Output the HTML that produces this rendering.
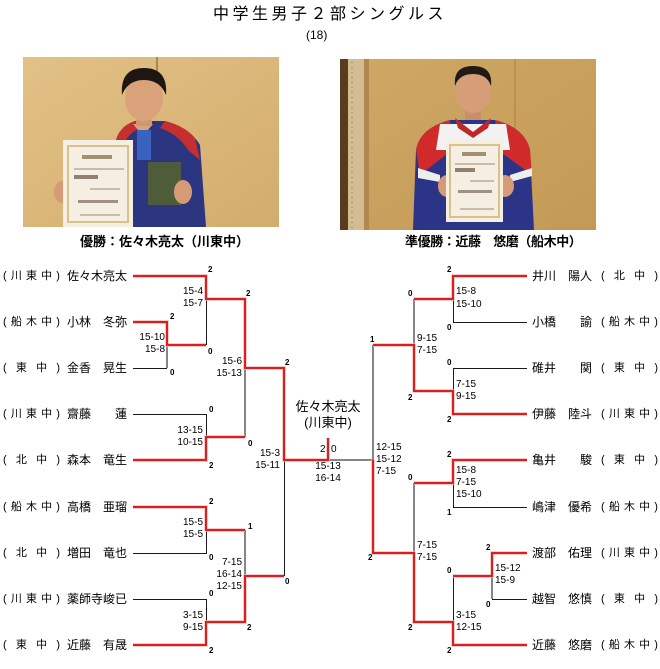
<!DOCTYPE html>
<html><head><meta charset="utf-8">
<style>
html,body{margin:0;padding:0;background:#fff;}
body{width:660px;height:669px;position:relative;overflow:hidden;font-family:"Liberation Sans","Noto Sans CJK JP",sans-serif;color:#000;}
.a{position:absolute;white-space:nowrap;}
.title{left:213px;top:5px;font-size:16px;line-height:20px;letter-spacing:3.5px;font-family:"Liberation Sans","Noto Sans CJK JP",sans-serif;}
.sub{left:306px;top:27px;font-size:12px;line-height:16px;}
.cap{font-size:13px;font-weight:bold;line-height:16px;top:234px;}
.nm{font-size:12px;line-height:16px;width:62px;}
.sc{font-size:11px;line-height:16px;width:57px;display:flex;justify-content:space-between;}
.s{font-size:10px;line-height:12px;}
.r{text-align:right;}
.n{font-size:8px;font-weight:bold;line-height:8px;}
</style></head><body>

<div class="a title">中学生男子２部シングルス</div>
<div class="a sub">(18)</div>

<svg class="a" style="left:0;top:0" width="660" height="669" viewBox="0 0 660 669">
  <!-- Left photo -->
  <defs>
    <linearGradient id="lb" x1="0" y1="0" x2="1" y2="1">
      <stop offset="0" stop-color="#e2c186"/><stop offset="1" stop-color="#d2ac6c"/>
    </linearGradient>
    <linearGradient id="rb" x1="0" y1="0" x2="1" y2="1">
      <stop offset="0" stop-color="#cfa866"/><stop offset="1" stop-color="#c39a55"/>
    </linearGradient>
  </defs>
  <rect x="23" y="57" width="256" height="170" fill="url(#lb)"/>
  <line x1="157" y1="57" x2="157" y2="72" stroke="#6a5030" stroke-width="1"/>
  <!-- jacket -->
  <path d="M112 227 L116 140 Q120 126 135 121 L165 121 Q190 128 200 145 L206 227 Z" fill="#2c3580"/>
  <path d="M116 140 Q120 126 135 121 L140 128 Q126 134 122 150 Z" fill="#c43030"/>
  <path d="M165 121 Q185 126 195 138 L200 160 L188 150 Q178 134 160 128 Z" fill="#c43030"/>
  <path d="M133 124 L143 136 L153 124 Z" fill="#d8a27a"/>
  <rect x="137" y="130" width="14" height="30" fill="#3a62c0"/>
  <!-- head -->
  <rect x="136" y="112" width="16" height="14" fill="#cf9670"/>
  <ellipse cx="144" cy="98" rx="19" ry="23" fill="#d9a27b"/>
  <path d="M122 95 Q120 68 144 68 Q168 68 166 95 Q160 80 144 80 Q128 80 122 95 Z" fill="#1d1612"/>
  <!-- green book -->
  <rect x="148" y="162" width="33" height="43" fill="#4e5c3a"/>
  <!-- hands -->
  <ellipse cx="62" cy="192" rx="8" ry="11" fill="#d59b76"/>
  <ellipse cx="183" cy="192" rx="9" ry="12" fill="#d59b76"/>
  <!-- certificate -->
  <rect x="63" y="140" width="70" height="87" fill="#f5efe3"/>
  <rect x="68" y="146" width="60" height="76" fill="none" stroke="#d8c28a" stroke-width="2"/>
  <rect x="82" y="155" width="30" height="4" fill="#a09070"/>
  <rect x="74" y="168" width="50" height="2" fill="#c8bca8"/>
  <rect x="74" y="175" width="24" height="4" fill="#908070"/>
  <rect x="90" y="188" width="30" height="2" fill="#c8bca8"/>
  <rect x="78" y="200" width="40" height="3" fill="#a09080"/>
  <rect x="80" y="214" width="40" height="2" fill="#c8bca8"/>

  <!-- Right photo -->
  <rect x="340" y="59" width="256" height="171" fill="url(#rb)"/>
  <rect x="340" y="59" width="8" height="171" fill="#5c3c20"/>
  <rect x="348" y="59" width="16" height="171" fill="#d4bc92"/>
  <line x1="352" y1="62" x2="352" y2="228" stroke="#8a6a40" stroke-width="1" stroke-dasharray="1,4"/>
  <rect x="364" y="59" width="5" height="171" fill="#b08850"/>
  <line x1="515" y1="59" x2="515" y2="230" stroke="#a88448" stroke-width="1"/>
  <!-- jacket -->
  <path d="M413 230 L416 150 Q420 128 450 120 L495 120 Q525 128 530 150 L534 230 Z" fill="#2b3486"/>
  <path d="M416 150 Q420 128 450 120 L452 150 L420 175 Z" fill="#d02a2a"/>
  <path d="M495 120 Q525 128 530 150 L532 175 L498 150 Z" fill="#d02a2a"/>
  <path d="M440 124 L506 124 L510 150 L436 150 Z" fill="#f2f2f2"/>
  <path d="M455 118 L473 132 L491 118 L488 128 L473 138 L458 128 Z" fill="#c02828"/>
  <path d="M418 168 L440 175 L440 182 L418 178 Z" fill="#eeeeee"/>
  <path d="M510 175 L532 168 L532 176 L510 182 Z" fill="#eeeeee"/>
  <!-- head -->
  <rect x="465" y="104" width="16" height="16" fill="#c98f68"/>
  <ellipse cx="473" cy="91" rx="18" ry="22" fill="#d59d78"/>
  <path d="M455 86 Q453 66 473 66 Q493 66 491 86 Q487 74 473 74 Q459 74 455 86 Z" fill="#221a14"/>
  <!-- hands -->
  <ellipse cx="447" cy="186" rx="9" ry="11" fill="#d59b76"/>
  <ellipse cx="505" cy="186" rx="9" ry="11" fill="#d59b76"/>
  <!-- certificate -->
  <rect x="446" y="140" width="57" height="82" fill="#f5efe3"/>
  <rect x="450" y="145" width="49" height="72" fill="none" stroke="#d8c28a" stroke-width="2"/>
  <rect x="462" y="152" width="24" height="4" fill="#a09070"/>
  <rect x="455" y="163" width="40" height="2" fill="#c8bca8"/>
  <rect x="455" y="168" width="20" height="4" fill="#908070"/>
  <rect x="470" y="180" width="24" height="2" fill="#c8bca8"/>
  <rect x="458" y="190" width="34" height="3" fill="#a09080"/>
  <rect x="460" y="208" width="34" height="2" fill="#c8bca8"/>

  <!-- Bracket: gray 2px -->
  <g fill="none" stroke="#868686" stroke-width="2">
    <path d="M167 345 V368"/>
    <path d="M245 368 V437"/>
    <path d="M245 530 V576"/>
    <path d="M373 345 V460 H328"/>
    <path d="M414 299 V345"/>
    <path d="M414 483 V553"/>
    <path d="M492 576 V599"/>
  </g>
  <!-- black 1px -->
  <g fill="none" stroke="#1a1a1a" stroke-width="1">
    <path d="M133 368.5 H167"/>
    <path d="M133 414.5 H206.5 V437"/>
    <path d="M206.5 299 V345"/>
    <path d="M133 553.5 H206.5 V530"/>
    <path d="M133 599.5 H206.5 V622"/>
    <path d="M284.5 460 V576"/>
    <path d="M527 322.5 H453.5 V299"/>
    <path d="M527 368.5 H453.5 V391"/>
    <path d="M527 507.5 H453.5 V483"/>
    <path d="M527 599.5 H492"/>
    <path d="M453.5 576 V622"/>
  </g>
  <!-- red -->
  <g fill="none" stroke="#f2b8b8" stroke-width="3.4" stroke-linejoin="miter">
    <path d="M133 276 H206 V299 H245 V368 H284 V460 H328 V438"/>
    <path d="M133 322 H167 V345 H206"/>
    <path d="M133 460 H206 V437 H245"/>
    <path d="M133 507 H206 V530 H245"/>
    <path d="M133 645 H206 V622 H245 V576 H284"/>
    <path d="M527 276 H453 V299 H414"/>
    <path d="M527 414 H453 V391 H414 V345 H373"/>
    <path d="M527 460 H453 V483 H414"/>
    <path d="M527 553 H492 V576 H453"/>
    <path d="M527 645 H453 V622 H414 V553 H373 V460"/>
  </g>
  <g fill="none" stroke="#dc1e1e" stroke-width="2" stroke-linejoin="miter">
    <path d="M133 276 H206 V299 H245 V368 H284 V460 H328 V438"/>
    <path d="M133 322 H167 V345 H206"/>
    <path d="M133 460 H206 V437 H245"/>
    <path d="M133 507 H206 V530 H245"/>
    <path d="M133 645 H206 V622 H245 V576 H284"/>
    <path d="M527 276 H453 V299 H414"/>
    <path d="M527 414 H453 V391 H414 V345 H373"/>
    <path d="M527 460 H453 V483 H414"/>
    <path d="M527 553 H492 V576 H453"/>
    <path d="M527 645 H453 V622 H414 V553 H373 V460"/>
  </g>
</svg>

<div class="a cap" style="left:80px;">優勝：佐々木亮太（川東中）</div>
<div class="a cap" style="left:405px;letter-spacing:-0.4px;">準優勝：近藤　悠磨（船木中）</div>

<!-- Left names -->
<div class="a sc" style="left:3px;top:268px"><span>(</span><span>川</span><span>東</span><span>中</span><span>)</span></div>
<div class="a nm" style="left:67px;top:268px">佐々木亮太</div>
<div class="a sc" style="left:3px;top:314px"><span>(</span><span>船</span><span>木</span><span>中</span><span>)</span></div>
<div class="a nm" style="left:67px;top:314px">小林　冬弥</div>
<div class="a sc" style="left:3px;top:360px"><span>(</span><span>東</span><span>中</span><span>)</span></div>
<div class="a nm" style="left:67px;top:360px">金香　晃生</div>
<div class="a sc" style="left:3px;top:406px"><span>(</span><span>川</span><span>東</span><span>中</span><span>)</span></div>
<div class="a nm" style="left:67px;top:406px">齋藤　　蓮</div>
<div class="a sc" style="left:3px;top:452px"><span>(</span><span>北</span><span>中</span><span>)</span></div>
<div class="a nm" style="left:67px;top:452px">森本　竜生</div>
<div class="a sc" style="left:3px;top:499px"><span>(</span><span>船</span><span>木</span><span>中</span><span>)</span></div>
<div class="a nm" style="left:67px;top:499px">高橋　亜瑠</div>
<div class="a sc" style="left:3px;top:545px"><span>(</span><span>北</span><span>中</span><span>)</span></div>
<div class="a nm" style="left:67px;top:545px">増田　竜也</div>
<div class="a sc" style="left:3px;top:591px"><span>(</span><span>川</span><span>東</span><span>中</span><span>)</span></div>
<div class="a nm" style="left:67px;top:591px">薬師寺峻已</div>
<div class="a sc" style="left:3px;top:637px"><span>(</span><span>東</span><span>中</span><span>)</span></div>
<div class="a nm" style="left:67px;top:637px">近藤　有晟</div>

<!-- Right names -->
<div class="a nm" style="left:532px;top:268px">井川　陽人</div>
<div class="a sc" style="left:601px;top:268px"><span>(</span><span>北</span><span>中</span><span>)</span></div>
<div class="a nm" style="left:532px;top:314px">小橋　　諭</div>
<div class="a sc" style="left:601px;top:314px"><span>(</span><span>船</span><span>木</span><span>中</span><span>)</span></div>
<div class="a nm" style="left:532px;top:360px">碓井　　関</div>
<div class="a sc" style="left:601px;top:360px"><span>(</span><span>東</span><span>中</span><span>)</span></div>
<div class="a nm" style="left:532px;top:406px">伊藤　陸斗</div>
<div class="a sc" style="left:601px;top:406px"><span>(</span><span>川</span><span>東</span><span>中</span><span>)</span></div>
<div class="a nm" style="left:532px;top:452px">亀井　　駿</div>
<div class="a sc" style="left:601px;top:452px"><span>(</span><span>東</span><span>中</span><span>)</span></div>
<div class="a nm" style="left:532px;top:499px">嶋津　優希</div>
<div class="a sc" style="left:601px;top:499px"><span>(</span><span>船</span><span>木</span><span>中</span><span>)</span></div>
<div class="a nm" style="left:532px;top:545px">渡部　佑理</div>
<div class="a sc" style="left:601px;top:545px"><span>(</span><span>川</span><span>東</span><span>中</span><span>)</span></div>
<div class="a nm" style="left:532px;top:591px">越智　悠慎</div>
<div class="a sc" style="left:601px;top:591px"><span>(</span><span>東</span><span>中</span><span>)</span></div>
<div class="a nm" style="left:532px;top:637px">近藤　悠磨</div>
<div class="a sc" style="left:601px;top:637px"><span>(</span><span>船</span><span>木</span><span>中</span><span>)</span></div>

<!-- Center winner -->
<div class="a" style="left:288px;width:80px;text-align:center;top:399px;font-size:13px;line-height:16px;">佐々木亮太</div>
<div class="a" style="left:288px;width:80px;text-align:center;top:415px;font-size:13px;line-height:16px;">(川東中)</div>
<div class="a s" style="left:320px;top:444px;">2</div>
<div class="a s" style="left:331px;top:444px;">0</div>
<div class="a s" style="left:308px;width:40px;text-align:center;top:461px;">15-13</div>
<div class="a s" style="left:308px;width:40px;text-align:center;top:473px;">16-14</div>

<!-- Left scores (right-aligned; right edge given by left+width) -->
<div class="a s r" style="left:163px;width:40px;top:286px;">15-4</div>
<div class="a s r" style="left:163px;width:40px;top:298px;">15-7</div>
<div class="a s r" style="left:125px;width:40px;top:332px;">15-10</div>
<div class="a s r" style="left:125px;width:40px;top:344px;">15-8</div>
<div class="a s r" style="left:202px;width:40px;top:356px;">15-6</div>
<div class="a s r" style="left:202px;width:40px;top:368px;">15-13</div>
<div class="a s r" style="left:163px;width:40px;top:425px;">13-15</div>
<div class="a s r" style="left:163px;width:40px;top:437px;">10-15</div>
<div class="a s r" style="left:240px;width:40px;top:448px;">15-3</div>
<div class="a s r" style="left:240px;width:40px;top:460px;">15-11</div>
<div class="a s r" style="left:163px;width:40px;top:517px;">15-5</div>
<div class="a s r" style="left:163px;width:40px;top:529px;">15-5</div>
<div class="a s r" style="left:202px;width:40px;top:557px;">7-15</div>
<div class="a s r" style="left:202px;width:40px;top:569px;">16-14</div>
<div class="a s r" style="left:202px;width:40px;top:581px;">12-15</div>
<div class="a s r" style="left:163px;width:40px;top:610px;">3-15</div>
<div class="a s r" style="left:163px;width:40px;top:622px;">9-15</div>

<!-- Right scores -->
<div class="a s" style="left:456px;top:286px;">15-8</div>
<div class="a s" style="left:456px;top:299px;">15-10</div>
<div class="a s" style="left:417px;top:333px;">9-15</div>
<div class="a s" style="left:417px;top:345px;">7-15</div>
<div class="a s" style="left:456px;top:379px;">7-15</div>
<div class="a s" style="left:456px;top:391px;">9-15</div>
<div class="a s" style="left:376px;top:442px;">12-15</div>
<div class="a s" style="left:376px;top:454px;">15-12</div>
<div class="a s" style="left:376px;top:466px;">7-15</div>
<div class="a s" style="left:456px;top:465px;">15-8</div>
<div class="a s" style="left:456px;top:477px;">7-15</div>
<div class="a s" style="left:456px;top:489px;">15-10</div>
<div class="a s" style="left:417px;top:540px;">7-15</div>
<div class="a s" style="left:417px;top:552px;">7-15</div>
<div class="a s" style="left:495px;top:563px;">15-12</div>
<div class="a s" style="left:495px;top:575px;">15-9</div>
<div class="a s" style="left:456px;top:610px;">3-15</div>
<div class="a s" style="left:456px;top:622px;">12-15</div>

<!-- small game counts (center positions minus ~2/4) -->
<div class="a n" style="left:208px;top:266px;">2</div>
<div class="a n" style="left:208px;top:348px;">0</div>
<div class="a n" style="left:170px;top:313px;">2</div>
<div class="a n" style="left:170px;top:369px;">0</div>
<div class="a n" style="left:246px;top:290px;">2</div>
<div class="a n" style="left:248px;top:440px;">0</div>
<div class="a n" style="left:209px;top:406px;">0</div>
<div class="a n" style="left:209px;top:462px;">2</div>
<div class="a n" style="left:285px;top:359px;">2</div>
<div class="a n" style="left:285px;top:578px;">0</div>
<div class="a n" style="left:209px;top:498px;">2</div>
<div class="a n" style="left:209px;top:554px;">0</div>
<div class="a n" style="left:209px;top:590px;">0</div>
<div class="a n" style="left:209px;top:647px;">2</div>
<div class="a n" style="left:248px;top:523px;">1</div>
<div class="a n" style="left:247px;top:624px;">2</div>

<div class="a n" style="left:447px;top:266px;">2</div>
<div class="a n" style="left:447px;top:324px;">0</div>
<div class="a n" style="left:408px;top:290px;">0</div>
<div class="a n" style="left:408px;top:394px;">2</div>
<div class="a n" style="left:447px;top:359px;">0</div>
<div class="a n" style="left:447px;top:416px;">2</div>
<div class="a n" style="left:370px;top:336px;">1</div>
<div class="a n" style="left:447px;top:451px;">2</div>
<div class="a n" style="left:447px;top:509px;">1</div>
<div class="a n" style="left:408px;top:474px;">0</div>
<div class="a n" style="left:368px;top:554px;">2</div>
<div class="a n" style="left:486px;top:544px;">2</div>
<div class="a n" style="left:486px;top:601px;">0</div>
<div class="a n" style="left:447px;top:567px;">0</div>
<div class="a n" style="left:447px;top:647px;">2</div>
<div class="a n" style="left:408px;top:624px;">2</div>

</body></html>
